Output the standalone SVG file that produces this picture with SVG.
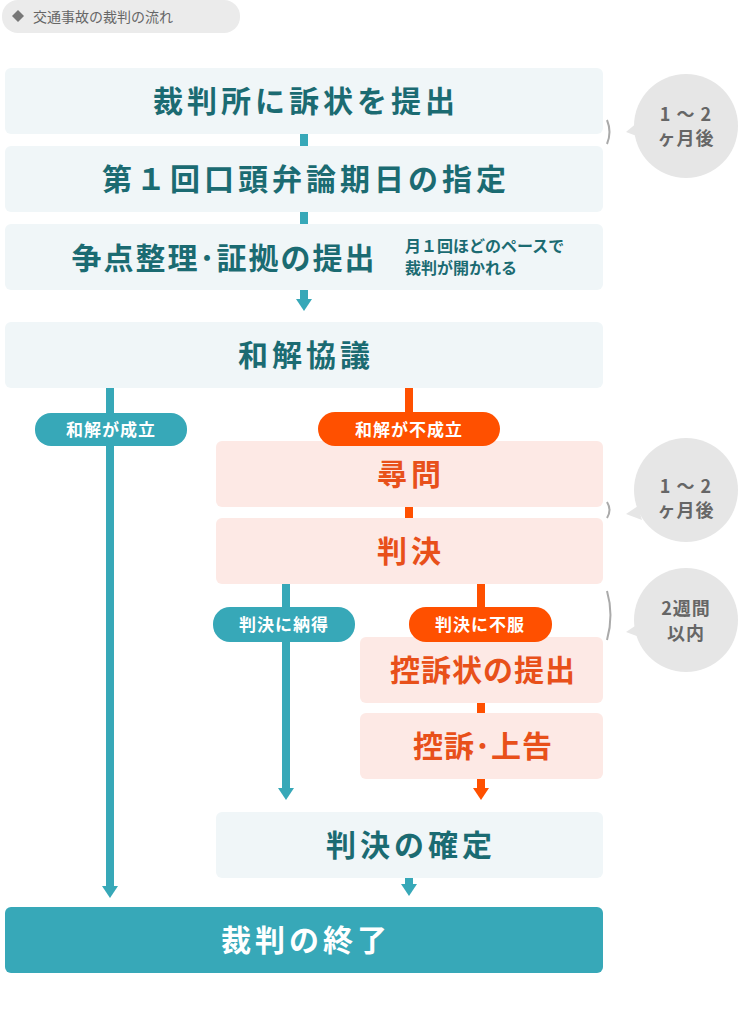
<svg xmlns="http://www.w3.org/2000/svg" width="738" height="1024" viewBox="0 0 738 1024">
<style>
text{font-family:"Noto Sans CJK JP","Noto Sans",sans-serif;font-weight:bold;text-anchor:middle}
.lb{fill:#f0f6f8}.pk{fill:#fde9e5}
.tt{fill:#1b6b72;font-size:30px;letter-spacing:4px}.to{fill:#e8501a;font-size:30px;letter-spacing:4px}
.pill{fill:#fff;font-size:17px;letter-spacing:1px}
.bt{fill:#666;font-size:18px;letter-spacing:1px}
.br{fill:none;stroke:#aaa;stroke-width:2}
.bub{fill:#e6e6e6}
</style>
<rect x="2" y="0" width="238" height="33" rx="16" fill="#ebebeb"/>
<path d="M18 10 L24 16 L18 22 L12 16Z" fill="#777"/>
<text x="33" y="22" style="font-size:14px;fill:#666;font-weight:normal;text-anchor:start">交通事故の裁判の流れ</text>

<g id="connectors">
<rect x="300" y="134" width="8" height="12" fill="#37a8b8"/>
<rect x="300" y="212" width="8" height="12" fill="#37a8b8"/>
<rect x="300" y="290" width="8" height="10" fill="#37a8b8"/><path d="M296 299 H312 L304 311Z" fill="#37a8b8"/>
<rect x="106" y="388" width="8" height="500" fill="#37a8b8"/><path d="M102 886 H118 L110 898Z" fill="#37a8b8"/>
<rect x="405" y="388" width="8" height="26" fill="#ff5000"/>
<rect x="405" y="507" width="8" height="11" fill="#ff5000"/>
<rect x="282" y="584" width="8" height="206" fill="#37a8b8"/><path d="M278 788 H294 L286 800Z" fill="#37a8b8"/>
<rect x="477" y="584" width="8" height="55" fill="#ff5000"/>
<rect x="477" y="703" width="8" height="10" fill="#ff5000"/>
<rect x="477" y="779" width="8" height="11" fill="#ff5000"/><path d="M473 788 H489 L481 800Z" fill="#ff5000"/>
<rect x="405" y="878" width="8" height="8" fill="#37a8b8"/><path d="M401 884 H417 L409 896Z" fill="#37a8b8"/>
</g>

<g id="n1"><rect class="lb" x="5" y="68" width="598" height="66" rx="6"/><text class="tt" x="306" y="112">裁判所に訴状を提出</text></g>
<g id="n2"><rect class="lb" x="5" y="146" width="598" height="66" rx="6"/><text class="tt" x="306" y="190">第１回口頭弁論期日の指定</text></g>
<g id="n3"><rect class="lb" x="5" y="224" width="598" height="66" rx="6"/><text class="tt" x="224" y="269" style="letter-spacing:2px">争点整理･証拠の提出</text>
<text x="405" y="252" style="fill:#1b6b72;font-size:16px;text-anchor:start">月１回ほどのペースで</text>
<text x="405" y="274" style="fill:#1b6b72;font-size:16px;text-anchor:start">裁判が開かれる</text></g>
<g id="n4"><rect class="lb" x="5" y="322" width="598" height="66" rx="6"/><text class="tt" x="306" y="366">和解協議</text></g>
<g id="p1"><rect x="35" y="413" width="152" height="33" rx="16" fill="#37a8b8"/><text class="pill" x="111" y="436">和解が成立</text></g>
<g id="n5"><rect class="pk" x="216" y="441" width="387" height="66" rx="6"/><text class="to" x="411" y="485">尋問</text></g>
<g id="p2"><rect x="318" y="412" width="182" height="34" rx="17" fill="#ff5000"/><text class="pill" x="409" y="436">和解が不成立</text></g>
<g id="n6"><rect class="pk" x="216" y="518" width="387" height="66" rx="6"/><text class="to" x="411" y="562">判決</text></g>
<g id="n7"><rect class="pk" x="360" y="637" width="243" height="66" rx="6"/><text class="to" x="483" y="681" style="letter-spacing:1px">控訴状の提出</text></g>
<g id="p3"><rect x="213" y="607" width="142" height="35" rx="17" fill="#37a8b8"/><text class="pill" x="284" y="631">判決に納得</text></g>
<g id="p4"><rect x="409" y="607" width="143" height="35" rx="17" fill="#ff5000"/><text class="pill" x="480" y="631">判決に不服</text></g>
<g id="n8"><rect class="pk" x="360" y="713" width="243" height="66" rx="6"/><text class="to" x="483" y="757" style="letter-spacing:1px">控訴･上告</text></g>
<g id="n9"><rect class="lb" x="216" y="812" width="387" height="66" rx="6"/><text class="tt" x="411" y="856">判決の確定</text></g>
<g id="n10"><rect x="5" y="907" width="598" height="66" rx="6" fill="#37a8b8"/><text x="306" y="951" style="fill:#fff;font-size:30px;letter-spacing:4px">裁判の終了</text></g>

<g id="b1"><path class="br" d="M607 120 Q612 132 607 144"/><circle class="bub" cx="686" cy="126" r="52"/><path class="bub" d="M638 122 L626 132 L642 138Z"/>
<text class="bt" x="686" y="121">1 ～ 2</text><text class="bt" x="686" y="145">ヶ月後</text></g>
<g id="b2"><path class="br" d="M607 502 Q612 510 607 518"/><circle class="bub" cx="686" cy="490" r="52"/><path class="bub" d="M638 506 L626 514 L642 520Z"/>
<text class="bt" x="686" y="493">1 ～ 2</text><text class="bt" x="686" y="517">ヶ月後</text></g>
<g id="b3"><path class="br" d="M607 591 Q614 615 607 640"/><circle class="bub" cx="686" cy="620" r="52"/><path class="bub" d="M638 624 L626 632 L642 638Z"/>
<text class="bt" x="686" y="615">2週間</text><text class="bt" x="686" y="640">以内</text></g>
</svg>
